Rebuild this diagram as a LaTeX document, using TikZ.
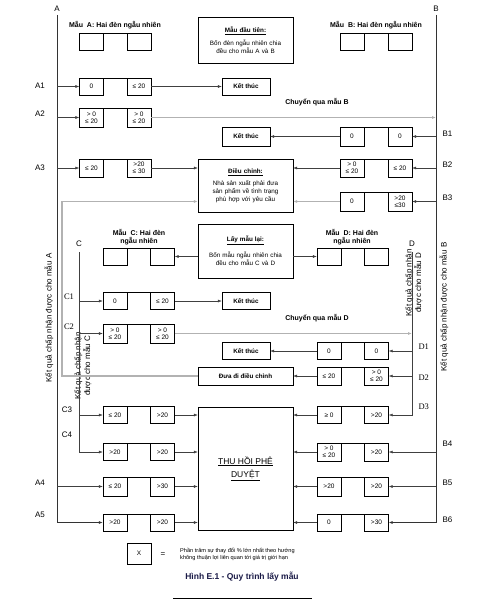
\documentclass[tikz,border=0pt]{standalone}
\usepackage{fontspec}
\setmainfont{Liberation Sans}
\newfontfamily\tagserif{Liberation Serif}
\usepackage{xcolor}
\usetikzlibrary{arrows.meta,positioning,calc}
\definecolor{capnavy}{RGB}{25,25,70}

\begin{document}
\begin{tikzpicture}[x=1pt, y=-1pt,
  cell/.style={draw, minimum width=24pt, minimum height=17pt, inner sep=0pt, align=center, font=\fontsize{6.5}{7}\selectfont},
  endbox/.style={draw, minimum width=48pt, minimum height=17pt, inner sep=0pt, font=\bfseries\fontsize{6.3}{7}\selectfont},
  panel/.style={draw, minimum width=95pt, text width=92pt, inner sep=0pt, align=center, font=\fontsize{6.3}{8}\selectfont},
  arrow/.style={-{Latex[length=4pt,width=3pt]}, line width=0.5pt, draw=black!75},
  pass/.style={-{Latex[length=4pt,width=3pt]}, line width=1.1pt, draw=black!30},
  rail/.style={-{Latex[length=4pt,width=3pt]}, line width=0.7pt, draw=black!80},
  tag/.style={font=\fontsize{8}{9}\selectfont},
  stag/.style={font=\tagserif\fontsize{8.5}{9}\selectfont},
  head/.style={font=\bfseries\fontsize{7}{8.5}\selectfont, align=center},
  side/.style={rotate=90, font=\fontsize{8}{9.5}\selectfont, align=center}
]
\useasboundingbox (0,0) rectangle (488,607);

% rails
\coordinate (Atop) at (57,15);
\coordinate (Abot) at (57,522.5);
\coordinate (Btop) at (436,15);
\coordinate (Bbot) at (436,522.5);
\coordinate (Ctop) at (79,252);
\coordinate (Cbot) at (79,452);
\coordinate (Dtop) at (412,252);
\coordinate (Dbot) at (412,415);
\coordinate (ret) at (62,0);
\node[tag] (labA) at (57,9) {A};
\node[tag] (labB) at (436,9) {B};
\node[tag] (labC) at (79,244) {C};
\node[tag] (labD) at (412,244) {D};

% first sample
\node[head] (hdA) at (115,25) {Mẫu \ A: Hai đèn ngẫu nhiên};
\node[cell] (sa1) at (91.5,41.5) {};
\node[cell] (sa2) at (139,41.5) {};
\node[panel, minimum height=46pt] (first) at (245.5,40) {\underline{\textbf{Mẫu đầu tiên:}}\\[5pt]Bốn đèn ngẫu nhiên chia\\đều cho mẫu A và B};
\node[head] (hdB) at (376,25) {Mẫu \ B: Hai đèn ngẫu nhiên};
\node[cell] (sb1) at (352,41.5) {};
\node[cell] (sb2) at (400,41.5) {};

% rows A1 - B3
\node[cell] (a1l) at (91.5,86.5) {0};
\node[cell] (a1r) at (139,86.5) {≤ 20};
\node[endbox] (end1) at (246,86.5) {Kết thúc};
\node[tag] at (40,86) {A1};

\node[cell, minimum height=19pt] (a2l) at (91.5,117.5) {> 0\\≤ 20};
\node[cell, minimum height=19pt] (a2r) at (139,117.5) {> 0\\≤ 20};
\node[head] (toB) at (317,102) {Chuyển qua mẫu B};
\node[tag] at (40,114) {A2};

\node[endbox, minimum height=19pt] (end2) at (246,136.5) {Kết thúc};
\node[cell, minimum height=19pt] (b1l) at (352,136.5) {0};
\node[cell, minimum height=19pt] (b1r) at (400,136.5) {0};
\node[tag, anchor=west] at (439,134) {B1};

\node[cell, minimum height=18pt] (a3l) at (91.5,168) {≤ 20};
\node[cell, minimum height=18pt] (a3r) at (139,168) {>20\\≤ 30};
\node[tag] at (40,168) {A3};
\node[panel, minimum height=53pt] (adj) at (245.5,185.5) {\underline{\textbf{Điều chỉnh:}}\\[4pt]Nhà sản xuất phải đưa\\sản phẩm về tình trạng\\phù hợp với yêu cầu};
\node[cell, minimum height=18pt] (b2l) at (352,168) {> 0\\≤ 20};
\node[cell, minimum height=18pt] (b2r) at (400,168) {≤ 20};
\node[tag, anchor=west] at (439,165) {B2};
\node[cell, minimum height=19pt] (b3l) at (352,201.5) {0};
\node[cell, minimum height=19pt] (b3r) at (400,201.5) {>20\\≤30};
\node[tag, anchor=west] at (439,198) {B3};

% second sample
\node[head] (hdC) at (139,237) {Mẫu \ C: Hai đèn\\ngẫu nhiên};
\node[cell] (sc1) at (115,256.5) {};
\node[cell] (sc2) at (162.5,256.5) {};
\node[panel, minimum height=54pt] (again) at (245.5,251) {\underline{\textbf{Lấy mẫu lại:}}\\[6pt]Bốn mẫu ngẫu nhiên chia\\đều cho mẫu C và D};
\node[head] (hdD) at (352,237) {Mẫu \ D: Hai đèn\\ngẫu nhiên};
\node[cell] (sd1) at (329,256.5) {};
\node[cell] (sd2) at (376.5,256.5) {};

% rows C1 - D3
\node[cell] (c1l) at (115,301) {0};
\node[cell] (c1r) at (162.5,301) {≤ 20};
\node[endbox] (end3) at (246,301) {Kết thúc};
\node[stag] at (69,297) {C1};

\node[cell, minimum height=19pt] (c2l) at (115,333.5) {> 0\\≤ 20};
\node[cell, minimum height=19pt] (c2r) at (162.5,333.5) {> 0\\≤ 20};
\node[head] (toD) at (317,318) {Chuyển qua mẫu D};
\node[stag] at (69,327) {C2};

\node[endbox] (end4) at (246,351) {Kết thúc};
\node[cell] (d1l) at (329,351) {0};
\node[cell] (d1r) at (376.5,351) {0};
\node[stag, anchor=west] at (415,347) {D1};

\node[endbox, minimum width=95pt, minimum height=18pt] (fix) at (245.5,376) {Đưa đi điều chỉnh};
\node[cell, minimum height=18pt] (d2l) at (329,376) {≤ 20};
\node[cell, minimum height=18pt] (d2r) at (376.5,376) {> 0\\≤ 20};
\node[stag, anchor=west] at (415,378) {D2};

\node[cell] (c3l) at (115,415) {≤ 20};
\node[cell] (c3r) at (162.5,415) {>20};
\node[tag] at (67,410) {C3};
\node[cell] (d3l) at (329,415) {≥ 0};
\node[cell] (d3r) at (376.5,415) {>20};
\node[stag, anchor=west] at (415,407) {D3};

\node[draw, minimum width=95pt, minimum height=123pt, align=center, font=\fontsize{8.5}{13}\selectfont] (recall) at (245.5,468.5) {\underline{THU HỒI PHÊ}\\\underline{DUYỆT}};

% rows C4 - B6
\node[cell] (c4l) at (115,452) {>20};
\node[cell] (c4r) at (162.5,452) {>20};
\node[tag] at (67,435) {C4};
\node[cell, minimum height=18pt] (b4l) at (329,452) {> 0\\≤ 20};
\node[cell, minimum height=18pt] (b4r) at (376.5,452) {>20};
\node[tag, anchor=west] at (439,444) {B4};

\node[cell, minimum height=19pt] (a4l) at (115,486.5) {≤ 20};
\node[cell, minimum height=19pt] (a4r) at (162.5,486.5) {>30};
\node[tag] at (40,483) {A4};
\node[cell, minimum height=19pt] (b5l) at (329,486.5) {>20};
\node[cell, minimum height=19pt] (b5r) at (376.5,486.5) {>20};
\node[tag, anchor=west] at (439,483) {B5};

\node[cell] (a5l) at (115,522.5) {>20};
\node[cell] (a5r) at (162.5,522.5) {>20};
\node[tag] at (40,515) {A5};
\node[cell] (b6l) at (329,522.5) {0};
\node[cell] (b6r) at (376.5,522.5) {>30};
\node[tag, anchor=west] at (439,520) {B6};

% side texts
\node[side] (okA) at (49,318) {Kết quả chấp nhận được cho mẫu A};
\node[side] (okB) at (444,307) {Kết quả chấp nhận được cho mẫu B};
\node[side] (okC) at (83,366) {Kết quả chấp nhận\\được cho mẫu C};
\node[side] (okD) at (414,283) {Kết quả chấp nhận\\được cho mẫu D};

% pair tops
\foreach \l/\r in {sa1/sa2,sb1/sb2,a1l/a1r,a2l/a2r,b1l/b1r,a3l/a3r,b2l/b2r,b3l/b3r,sc1/sc2,sd1/sd2,c1l/c1r,c2l/c2r,d1l/d1r,d2l/d2r,c3l/c3r,d3l/d3r,c4l/c4r,b4l/b4r,a4l/a4r,b5l/b5r,a5l/a5r,b6l/b6r}
  \draw (\l.north east) -- (\r.north west);

% rails
\draw[rail] (Atop) -- (Abot) -- (a5l);
\draw[rail] (Btop) -- (Bbot) -- (b6r);
\draw[arrow] (Ctop) -- (Cbot) -- (c4l);
\draw[arrow] (Dtop) -- (Dbot) -- (d3r);

% A side
\draw[arrow] (a1l.west -| Atop) -- (a1l);
\draw[arrow] (a2l.west -| Atop) -- (a2l);
\draw[arrow] (a3l.west -| Atop) -- (a3l);
\draw[arrow] (a4l.west -| Atop) -- (a4l);
\draw[arrow] (a1r) -- (end1);
\draw[pass] (a2r.east) -- (a2r.east -| Btop);
\draw[arrow] (a3r.east) -- (a3r.east -| adj.west);

% B side
\draw[arrow] (b1r.east -| Btop) -- (b1r);
\draw[arrow] (b2r.east -| Btop) -- (b2r);
\draw[arrow] (b3r.east -| Btop) -- (b3r);
\draw[arrow] (b4r.east -| Btop) -- (b4r);
\draw[arrow] (b5r.east -| Btop) -- (b5r);
\draw[arrow] (b1l) -- (end2);
\draw[arrow] (b2l.west) -- (b2l.west -| adj.east);
\draw[pass] (b3l.west) -- (b3l.west -| adj.east);

% resample
\draw[arrow] (sc2.east -| again.west) -- (sc2.east);
\draw[arrow] (sd1.west -| again.east) -- (sd1.west);
\draw[pass] (fix.west) -- (fix.west -| ret) |- (b3l.west -| adj.west);

% C side
\draw[arrow] (c1l.west -| Ctop) -- (c1l);
\draw[arrow] (c2l.west -| Ctop) -- (c2l);
\draw[arrow] (c3l.west -| Ctop) -- (c3l);
\draw[arrow] (c1r) -- (end3);
\draw[pass] (c2r.east) -- (c2r.east -| Dtop);
\draw[arrow] (c3r.east) -- (c3r.east -| recall.west);
\draw[arrow] (c4r.east) -- (c4r.east -| recall.west);
\draw[arrow] (a4r.east) -- (a4r.east -| recall.west);
\draw[arrow] (a5r.east) -- (a5r.east -| recall.west);

% D side
\draw[arrow] (d1r.east -| Dtop) -- (d1r);
\draw[arrow] (d2r.east -| Dtop) -- (d2r);
\draw[arrow] (d1l) -- (end4);
\draw[arrow] (d2l) -- (fix);
\draw[arrow] (d3l.west) -- (d3l.west -| recall.east);
\draw[arrow] (b4l.west) -- (b4l.west -| recall.east);
\draw[arrow] (b5l.west) -- (b5l.west -| recall.east);
\draw[arrow] (b6l.west) -- (b6l.west -| recall.east);

% key
\node[cell, minimum height=21pt] (key) at (139,553.5) {X};
\node[font=\fontsize{8}{9}\selectfont] (eq) at (163,555) {=};
\node[anchor=west, align=left, inner sep=0pt, font=\fontsize{5.6}{7}\selectfont] (keytxt) at (180,554) {Phần trăm sự thay đổi \% lớn nhất theo hướng\\không thuận lợi liên quan tới giá trị giới hạn};
\node[font=\bfseries\fontsize{8.5}{10}\selectfont, text=capnavy] (cap) at (242,577) {Hình E.1 - Quy trình lấy mẫu};
\draw[line width=0.6pt] (173,598) -- (312,598);
\end{tikzpicture}
\end{document}
